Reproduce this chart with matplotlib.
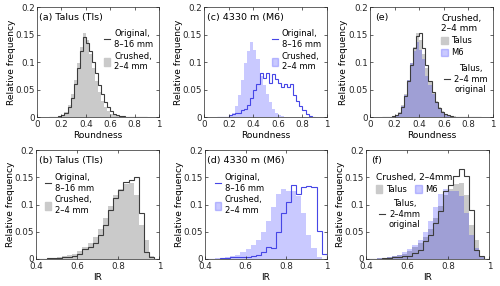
import numpy as np
import matplotlib
matplotlib.use("Agg")
import matplotlib.pyplot as plt
from matplotlib.lines import Line2D
from matplotlib.patches import Patch

plt.rcParams['font.family'] = 'DejaVu Sans'
plt.rcParams['font.size'] = 6

# bin edges (width 0.025)
round_edges = np.round(np.arange(0.1, 0.9001, 0.025), 3)
ir_edges = np.round(np.arange(0.4, 1.0001, 0.025), 3)

# roundness, relative frequency per bin (0.100 ... 0.875)
talus_orig_round = [0, 0, 0.0005, 0.001, 0.003, 0.008, 0.018, 0.035, 0.06, 0.09, 0.12, 0.145,
                    0.135, 0.12, 0.1, 0.08, 0.058, 0.042, 0.028, 0.018, 0.011, 0.006, 0.004,
                    0.002, 0.001, 0, 0, 0, 0, 0, 0, 0]
talus_crush_round = [0, 0, 0, 0.001, 0.004, 0.01, 0.022, 0.042, 0.068, 0.098, 0.128, 0.153,
                     0.14, 0.115, 0.09, 0.065, 0.045, 0.03, 0.019, 0.011, 0.006, 0.003, 0.002,
                     0.001, 0, 0, 0, 0, 0, 0, 0, 0]
talus_orig24_round = [0, 0, 0, 0.001, 0.003, 0.008, 0.018, 0.038, 0.065, 0.095, 0.125, 0.147,
                      0.153, 0.125, 0.095, 0.065, 0.045, 0.028, 0.017, 0.01, 0.005, 0.003, 0.001,
                      0, 0, 0, 0, 0, 0, 0, 0, 0]
m6_orig_round = [0, 0, 0, 0, 0.003, 0.005, 0.008, 0.008, 0.012, 0.015, 0.022, 0.035, 0.05,
                 0.06, 0.08, 0.072, 0.08, 0.062, 0.078, 0.07, 0.062, 0.055, 0.06, 0.055, 0.06,
                 0.04, 0.03, 0.02, 0.012, 0.006, 0.002, 0]
m6_crush_round = [0, 0, 0, 0, 0.002, 0.008, 0.02, 0.04, 0.068, 0.098, 0.12, 0.137, 0.122,
                  0.105, 0.075, 0.058, 0.042, 0.028, 0.015, 0.008, 0.004, 0.002, 0, 0, 0, 0,
                  0, 0, 0, 0, 0, 0]

# IR, relative frequency per bin (0.400 ... 0.975)
talus_orig_ir = [0, 0, 0.001, 0.001, 0.002, 0.003, 0.004, 0.006, 0.01, 0.018, 0.022, 0.03,
                 0.045, 0.062, 0.09, 0.112, 0.127, 0.142, 0.145, 0.15, 0.085, 0.012, 0.003, 0]
talus_crush_ir = [0, 0, 0.001, 0.001, 0.003, 0.005, 0.007, 0.01, 0.015, 0.022, 0.03, 0.04,
                  0.055, 0.075, 0.098, 0.118, 0.128, 0.138, 0.14, 0.118, 0.062, 0.035, 0.006, 0]
talus_orig24_ir = [0, 0, 0, 0.001, 0.002, 0.003, 0.004, 0.005, 0.006, 0.011, 0.017, 0.034,
                   0.045, 0.066, 0.088, 0.125, 0.137, 0.152, 0.165, 0.152, 0.09, 0.017, 0.005, 0]
m6_orig_ir = [0, 0, 0, 0.001, 0.002, 0.003, 0.003, 0.004, 0.004, 0.006, 0.008, 0.012, 0.022,
              0.02, 0.05, 0.085, 0.105, 0.137, 0.12, 0.133, 0.134, 0.132, 0.052, 0.009]
m6_crush_ir = [0, 0, 0.001, 0.002, 0.003, 0.005, 0.008, 0.012, 0.018, 0.025, 0.035, 0.05, 0.07,
               0.095, 0.12, 0.128, 0.125, 0.125, 0.115, 0.085, 0.045, 0.02, 0.003, 0]

gray_fill = '#cacaca'
blue_fill = (0, 0, 1, 0.21)
gray_line = '#3c3c3c'
blue_line = '#4646e6'

fig = plt.figure(figsize=(5, 2.86), dpi=100)

W, H = 500, 286
def add_ax(left, right, top, bottom):
    return fig.add_axes([left / W, 1 - bottom / H, (right - left) / W, (bottom - top) / H])

axa = add_ax(37, 159, 7.3, 117)
axc = add_ax(204.3, 327, 7.3, 117)
axe = add_ax(370, 493, 7.3, 117)
axb = add_ax(36.3, 159.3, 150.3, 259)
axd = add_ax(205, 326.7, 150.3, 259)
axf = add_ax(366.3, 489.3, 150.3, 259)


def style(ax, xlim, xticks, xticklabels, xlabel):
    ax.set_xlim(*xlim)
    ax.set_ylim(0, 0.2)
    ax.set_xticks(xticks)
    ax.set_xticklabels(xticklabels)
    ax.set_yticks([0, 0.05, 0.1, 0.15, 0.2])
    ax.set_yticklabels(['0', '0.05', '0.1', '0.15', '0.2'])
    ax.tick_params(direction='in', top=True, right=True, length=2.5, width=0.5,
                   labelsize=6.3, pad=1.5, colors='#262626')
    ax.tick_params(axis='x', pad=2.4)
    for s in ax.spines.values():
        s.set_linewidth(0.5)
        s.set_color('#262626')
    ax.set_ylabel('Relative frequency', fontsize=6.5)
    ax.set_xlabel(xlabel, fontsize=6.5)
    ax.yaxis.set_label_coords(-0.175, 0.5)
    ax.xaxis.set_label_coords(0.5, -0.13)


def fill(ax, vals, edges, color):
    ax.stairs(vals, edges, fill=True, color=color, linewidth=0)


def outline(ax, vals, edges, color):
    ax.stairs(vals, edges, color=color, linewidth=0.8)


r_ticks = [0, 0.2, 0.4, 0.6, 0.8, 1]
r_labels = ['0', '0.2', '0.4', '0.6', '0.8', '1']
i_ticks = [0.4, 0.6, 0.8, 1]
i_labels = ['0.4', '0.6', '0.8', '1']

leg_kw = dict(frameon=False, fontsize=6, handlelength=0.75, handleheight=1.0,
              handletextpad=0.45, labelspacing=0.35, borderpad=0, borderaxespad=0,
              loc='upper left')

# (a)
fill(axa, talus_crush_round, round_edges, gray_fill)
outline(axa, talus_orig_round, round_edges, gray_line)
style(axa, (0, 1), r_ticks, r_labels, 'Roundness')
axa.text(0.02, 0.91, '(a) Talus (Tls)', transform=axa.transAxes, fontsize=6.8, va='center')
axa.legend(handles=[Line2D([], [], color=gray_line, lw=0.8), Patch(color=gray_fill)],
           labels=['Original,\n8–16 mm', 'Crushed,\n2–4 mm'],
           bbox_to_anchor=(0.55, 0.8), **leg_kw)

# (c)
fill(axc, m6_crush_round, round_edges, blue_fill)
outline(axc, m6_orig_round, round_edges, blue_line)
style(axc, (0, 1), r_ticks, r_labels, 'Roundness')
axc.text(0.02, 0.91, '(c) 4330 m (M6)', transform=axc.transAxes, fontsize=6.8, va='center')
axc.legend(handles=[Line2D([], [], color=blue_line, lw=0.8), Patch(color=blue_fill)],
           labels=['Original,\n8–16 mm', 'Crushed,\n2–4 mm'],
           bbox_to_anchor=(0.55, 0.8), **leg_kw)

# (e)
fill(axe, talus_crush_round, round_edges, gray_fill)
fill(axe, m6_crush_round, round_edges, blue_fill)
outline(axe, talus_orig24_round, round_edges, gray_line)
style(axe, (0, 1), r_ticks, r_labels, 'Roundness')
axe.text(0.04, 0.91, '(e)', transform=axe.transAxes, fontsize=6.8, va='center')
leg1 = axe.legend(handles=[Patch(color=gray_fill), Patch(color=blue_fill)],
                  labels=['Talus', 'M6'], title='Crushed,\n2–4 mm', title_fontsize=6.5,
                  alignment='left', bbox_to_anchor=(0.58, 0.94), **leg_kw)
axe.add_artist(leg1)
leg2 = axe.legend(handles=[Line2D([], [], color=gray_line, lw=0.8)],
                  labels=['Talus,\n2–4 mm\noriginal'], bbox_to_anchor=(0.6, 0.48), **leg_kw)
leg2.get_texts()[0].set_multialignment('center')

# (b)
fill(axb, talus_crush_ir, ir_edges, gray_fill)
outline(axb, talus_orig_ir, ir_edges, gray_line)
style(axb, (0.4, 1), i_ticks, i_labels, 'IR')
axb.text(0.02, 0.91, '(b) Talus (Tls)', transform=axb.transAxes, fontsize=6.8, va='center')
axb.legend(handles=[Line2D([], [], color=gray_line, lw=0.8), Patch(color=gray_fill)],
           labels=['Original,\n8–16 mm', 'Crushed,\n2–4 mm'],
           bbox_to_anchor=(0.07, 0.79), **leg_kw)

# (d)
fill(axd, m6_crush_ir, ir_edges, blue_fill)
outline(axd, m6_orig_ir, ir_edges, blue_line)
style(axd, (0.4, 1), i_ticks, i_labels, 'IR')
axd.text(0.02, 0.91, '(d) 4330 m (M6)', transform=axd.transAxes, fontsize=6.8, va='center')
axd.legend(handles=[Line2D([], [], color=blue_line, lw=0.8), Patch(color=blue_fill)],
           labels=['Original,\n8–16 mm', 'Crushed,\n2–4 mm'],
           bbox_to_anchor=(0.08, 0.79), **leg_kw)

# (f)
fill(axf, talus_crush_ir, ir_edges, gray_fill)
fill(axf, m6_crush_ir, ir_edges, blue_fill)
outline(axf, talus_orig24_ir, ir_edges, gray_line)
style(axf, (0.4, 1), i_ticks, i_labels, 'IR')
axf.text(0.04, 0.91, '(f)', transform=axf.transAxes, fontsize=6.8, va='center')
leg1 = axf.legend(handles=[Patch(color=gray_fill), Patch(color=blue_fill)],
                  labels=['Talus', 'M6'], title='Crushed, 2–4mm', title_fontsize=6.5,
                  alignment='left', ncol=2, columnspacing=1.0,
                  bbox_to_anchor=(0.08, 0.79), **leg_kw)
axf.add_artist(leg1)
leg2 = axf.legend(handles=[Line2D([], [], color=gray_line, lw=0.8)],
                  labels=['Talus,\n2–4mm\noriginal'], bbox_to_anchor=(0.1, 0.55), **leg_kw)
leg2.get_texts()[0].set_multialignment('center')

fig.savefig('out.png', dpi=100)
